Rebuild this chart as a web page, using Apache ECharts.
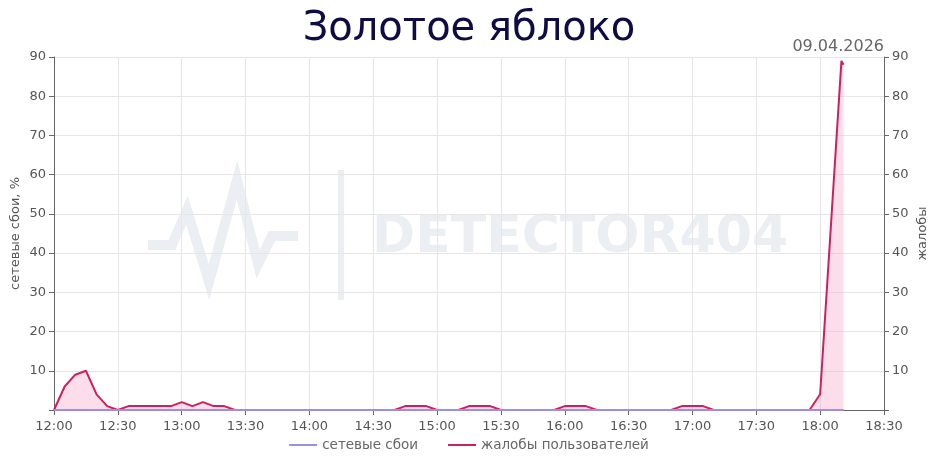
<!DOCTYPE html>
<html><head><meta charset="utf-8">
<script src="https://cdn.jsdelivr.net/npm/echarts@6/dist/echarts.min.js"></script>
<style>html,body{margin:0;padding:0;background:#fff}#c{width:938px;height:468px}</style>
</head><body><div id="c"></div>
<script>
var titleText = "Золотое яблоко";
var dateText = "09.04.2026";
var leftAxisName = "сетевые сбои, %";
var rightAxisName = "жалобы";
var seriesNames = ["сетевые сбои", "жалобы пользователей"];
var xTickLabels = ["12:00","12:30","13:00","13:30","14:00","14:30","15:00","15:30","16:00","16:30","17:00","17:30","18:00","18:30"];
var times = ["12:00","12:05","12:10","12:15","12:20","12:25","12:30","12:35","12:40","12:45","12:50","12:55",
"13:00","13:05","13:10","13:15","13:20","13:25","13:30","13:35","13:40","13:45","13:50","13:55",
"14:00","14:05","14:10","14:15","14:20","14:25","14:30","14:35","14:40","14:45","14:50","14:55",
"15:00","15:05","15:10","15:15","15:20","15:25","15:30","15:35","15:40","15:45","15:50","15:55",
"16:00","16:05","16:10","16:15","16:20","16:25","16:30","16:35","16:40","16:45","16:50","16:55",
"17:00","17:05","17:10","17:15","17:20","17:25","17:30","17:35","17:40","17:45","17:50","17:55",
"18:00","18:10","18:11"];
var complaints = [0,6,9,10,4,1,0,1,1,1,1,1,
2,1,2,1,1,0,0,0,0,0,0,0,
0,0,0,0,0,0,0,0,0,1,1,1,
0,0,0,1,1,1,0,0,0,0,0,0,
1,1,1,0,0,0,0,0,0,0,0,1,
1,1,0,0,0,0,0,0,0,0,0,0,
4,89,88];
var failures = [0,0,0,0,0,0,0,0,0,0,0,0,
0,0,0,0,0,0,0,0,0,0,0,0,
0,0,0,0,0,0,0,0,0,0,0,0,
0,0,0,0,0,0,0,0,0,0,0,0,
0,0,0,0,0,0,0,0,0,0,0,0,
0,0,0,0,0,0,0,0,0,0,0,0,
0,0,0];

function toMin(s){var p=s.split(":");return (+p[0]-12)*60+(+p[1]);}
function fmt(m){var h=12+Math.floor(m/60),mm=m%60;return h+":"+(mm<10?"0":"")+mm;}
var tickSet = {}; xTickLabels.forEach(function(t){tickSet[toMin(t)]=t;});

var chart = echarts.init(document.getElementById('c'));
var axisLbl = {color:'#555', fontSize:13, fontFamily:'DejaVu Sans'};
chart.setOption({
  animation:false,
  textStyle:{fontFamily:'DejaVu Sans'},
  title:{text:titleText,left:'center',top:5,textStyle:{fontSize:40,fontWeight:'normal',color:'#0e0b45',fontFamily:'DejaVu Sans'}},
  grid:{left:54,right:54,top:57,bottom:58,containLabel:false,outerBoundsMode:'none'},
  graphic:[
    {type:'polyline',silent:true,z:0,shape:{points:[[148,245],[172,245],[187,210],[209,282],[237,180],[258,264],[272,236],[298,236]]},style:{stroke:'#ebeef2',lineWidth:10,fill:null,lineJoin:'miter'}},
    {type:'rect',silent:true,z:0,shape:{x:338,y:170,width:6,height:130},style:{fill:'#ebeef2'}},
    {type:'text',silent:true,z:0,left:372,top:212,style:{text:'DETECTOR404',fill:'#ebeef2',font:'bold 52px "DejaVu Sans"'}},
    {type:'text',right:54,top:39,style:{text:dateText,fill:'#666',font:'16px "DejaVu Sans"'}}
  ],
  legend:{bottom:11,left:'center',itemWidth:28,itemHeight:2,itemGap:30,icon:'rect',
    textStyle:{color:'#666',fontSize:13.5},data:seriesNames},
  xAxis:{type:'value',min:0,max:390,interval:30,
    axisLine:{show:true,lineStyle:{color:'#666'}},
    axisTick:{show:true,lineStyle:{color:'#666'}},
    splitLine:{show:true,lineStyle:{color:'#e6e6e6'}},
    axisLabel:Object.assign({formatter:function(v){return tickSet[v]||fmt(v);},margin:10},axisLbl)},
  yAxis:[
    {type:'value',min:0,max:90,interval:10,name:leftAxisName,nameLocation:'middle',nameGap:32,nameMoveOverlap:false,
     nameTextStyle:{color:'#555',fontSize:13},
     axisLine:{show:true,lineStyle:{color:'#666'}},axisTick:{show:true,lineStyle:{color:'#666'}},
     splitLine:{show:true,lineStyle:{color:'#e6e6e6'}},
     axisLabel:Object.assign({formatter:function(v){return v===0?'':v;}},axisLbl)},
    {type:'value',min:0,max:90,interval:10,name:rightAxisName,nameLocation:'middle',nameGap:32,nameRotate:90,nameMoveOverlap:false,
     nameTextStyle:{color:'#555',fontSize:13},
     axisLine:{show:true,lineStyle:{color:'#666'}},axisTick:{show:true,lineStyle:{color:'#666'}},
     splitLine:{show:false},
     axisLabel:Object.assign({formatter:function(v){return v===0?'':v;}},axisLbl)}
  ],
  series:[
    {name:seriesNames[1],type:'line',yAxisIndex:1,symbol:'none',z:3,
     data:times.map(function(t,i){return [toMin(t),complaints[i]];}),
     lineStyle:{color:'#cc2060',width:2},itemStyle:{color:'#cc2060'},
     areaStyle:{color:'rgba(244,150,190,0.45)'}},
    {name:seriesNames[0],type:'line',yAxisIndex:0,symbol:'none',z:4,
     data:times.map(function(t,i){return [toMin(t),failures[i]];}),
     lineStyle:{color:'#9c8ee6',width:2},itemStyle:{color:'#9c8ee6'}}
  ]
});
</script></body></html>
